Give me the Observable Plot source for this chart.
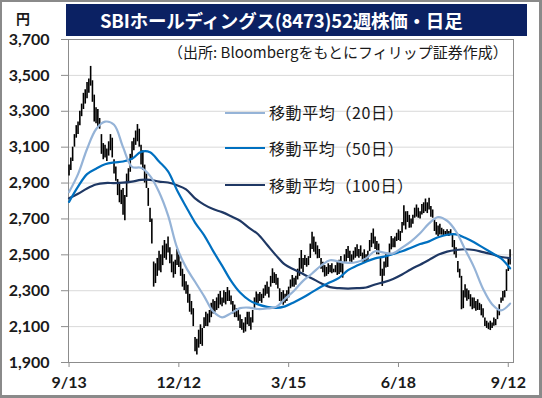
<!DOCTYPE html>
<html><head><meta charset="utf-8">
<script src="https://cdn.jsdelivr.net/npm/d3@7"></script>
<script src="https://cdn.jsdelivr.net/npm/@observablehq/plot@0.6"></script>
<style>
body{margin:0;background:#fff;}
#wrap{position:relative;width:542px;height:398px;overflow:hidden;font-family:"Noto Sans CJK JP","Noto Sans",sans-serif;background:#fff;}
#wrap svg{position:absolute;left:0;top:0;}
.ov{position:absolute;white-space:nowrap;}
#title{left:66px;top:4px;width:461px;height:32px;background:#0b2163;color:#fff;font-weight:bold;font-size:18.5px;line-height:32px;box-sizing:border-box;padding-left:34px;letter-spacing:-0.2px;}
#src{left:168px;top:42px;font-size:15px;line-height:20px;color:#1a1a1a;}
#yen{left:16px;top:8px;font-size:14px;font-weight:bold;line-height:20px;color:#1a1a1a;}
.lg{position:absolute;left:225px;width:40px;height:0;}
.lt{position:absolute;left:269px;font-size:16px;line-height:20px;color:#1a1a1a;white-space:nowrap;letter-spacing:0.6px;}
#border{position:absolute;left:0;top:0;width:542px;height:398px;box-sizing:border-box;border-style:solid;border-color:#8a8a8a;border-width:2px 3px 3px 2px;pointer-events:none;}
</style></head><body><div id="wrap"></div>
<script>
// Daily candles: trading-day index 0 = 9/13
const high = [
3000,3040,3100,3170,3220,3240,3300,3340,3400,3420,
3460,3480,3550,3470,3390,3320,3310,3260,3170,3120,
3110,3090,3130,3170,3150,3030,2990,2920,2900,2860,
2870,2830,2950,2980,3060,3130,3150,3190,3226,3200,
3110,3080,3000,2950,2870,2760,2700,2460,2450,2480,
2520,2500,2550,2580,2560,2600,2540,2500,2460,2470,
2530,2500,2460,2420,2390,2350,2330,2280,2240,2200,
2040,2030,2080,2110,2090,2150,2180,2170,2190,2230,
2250,2240,2260,2280,2296,2260,2300,2290,2318,2300,
2270,2240,2220,2200,2190,2165,2140,2120,2150,2180,
2180,2150,2190,2260,2293,2280,2290,2280,2310,2330,
2348,2320,2380,2422,2400,2390,2370,2311,2290,2300,
2280,2300,2320,2360,2385,2370,2380,2420,2480,2524,
2480,2496,2480,2490,2560,2626,2600,2570,2550,2530,
2480,2459,2440,2430,2450,2440,2450,2420,2440,2459,
2470,2491,2450,2500,2530,2546,2520,2500,2520,2540,
2556,2530,2550,2510,2528,2500,2520,2580,2620,2644,
2600,2574,2560,2481,2420,2460,2500,2490,2560,2602,
2590,2600,2620,2639,2630,2680,2774,2740,2741,2720,
2700,2720,2760,2778,2760,2740,2780,2790,2811,2790,
2815,2770,2750,2694,2680,2660,2670,2648,2640,2630,
2640,2630,2640,2611,2580,2540,2463,2420,2380,2300,
2333,2310,2300,2278,2260,2259,2240,2250,2230,2222,
2200,2148,2130,2120,2130,2120,2148,2140,2190,2222,
2260,2296,2300,2417,2481,2528];
const low = [
2940,2970,3020,3100,3150,3170,3220,3270,3310,3340,
3370,3400,3440,3350,3240,3230,3210,3200,3060,3030,
3040,3020,3050,3080,3040,2950,2910,2830,2790,2780,
2720,2690,2820,2900,2960,3030,3080,3110,3130,3100,
3000,2970,2900,2870,2770,2680,2560,2320,2340,2380,
2410,2400,2440,2480,2470,2510,2450,2400,2370,2390,
2440,2430,2380,2320,2300,2280,2230,2180,2165,2100,
1960,1942,1980,2000,1990,2090,2100,2100,2120,2150,
2170,2180,2190,2200,2220,2210,2230,2221,2240,2240,
2220,2170,2150,2150,2130,2090,2080,2063,2070,2110,
2100,2080,2120,2200,2230,2228,2240,2230,2256,2270,
2280,2260,2320,2340,2340,2330,2310,2240,2230,2219,
2230,2240,2260,2311,2320,2320,2330,2360,2380,2420,
2400,2440,2431,2440,2480,2530,2515,2500,2478,2480,
2420,2400,2376,2380,2390,2400,2394,2400,2400,2385,
2390,2400,2370,2454,2460,2480,2460,2454,2470,2481,
2490,2481,2490,2460,2454,2460,2470,2518,2540,2560,
2530,2500,2500,2380,2324,2380,2426,2430,2500,2528,
2540,2540,2574,2580,2574,2620,2660,2639,2680,2648,
2650,2670,2704,2710,2704,2700,2722,2730,2740,2730,
2750,2710,2704,2630,2610,2602,2610,2610,2602,2610,
2605,2602,2610,2540,2500,2481,2400,2370,2194,2200,
2260,2241,2250,2210,2194,2200,2185,2190,2190,2160,
2148,2100,2090,2083,2078,2090,2102,2105,2139,2160,
2230,2241,2260,2296,2407,2444];

// Moving averages read every 5 trading days
const maDay = [0,5,10,15,20,25,30,35,40,45,50,55,60,65,70,75,80,85,90,95,100,105,110,115,120,125,130,135,140,145,150,155,160,165,170,175,180,185,190,195,200,205,210,215,220,225,230,235,240,245];
const ma20 = [2850,2950,3090,3200,3242,3225,3100,2990,2985,2940,2850,2720,2540,2430,2350,2270,2185,2152,2175,2203,2206,2198,2201,2210,2255,2300,2355,2396,2440,2470,2462,2455,2460,2480,2520,2512,2508,2540,2575,2620,2675,2710,2690,2630,2530,2430,2310,2225,2190,2228];
const ma50 = [2795,2880,2950,2980,3005,3015,3020,3035,3074,3072,3020,2965,2860,2768,2680,2610,2522,2440,2355,2290,2248,2224,2210,2204,2213,2236,2262,2292,2322,2347,2372,2415,2440,2462,2480,2490,2505,2520,2540,2560,2575,2598,2612,2614,2595,2570,2540,2510,2480,2425];
const ma100 = [2815,2840,2870,2892,2900,2900,2902,2908,2918,2918,2908,2903,2888,2865,2815,2780,2755,2738,2715,2690,2650,2615,2556,2497,2445,2418,2393,2368,2342,2320,2314,2312,2314,2318,2335,2348,2365,2390,2420,2445,2472,2500,2518,2527,2531,2527,2515,2503,2488,2482];

const tickDays = [0,61,122,183,244];
const tickLabels = ["9/13","12/12","3/15","6/18","9/12"];
const yTicks = [1900,2100,2300,2500,2700,2900,3100,3300,3500,3700];

const seriesNames = ["移動平均（20日）","移動平均（50日）","移動平均（100日）"];
const seriesColors = ["#95b3d7","#0070c0","#1f3864"];

const days = high.map((h,i)=>({i, high:h, low:low[i]}));
const ma = maDay.map((d,k)=>({i:d, ma20:ma20[k], ma50:ma50[k], ma100:ma100[k]}));

const chart = Plot.plot({
  width: 542, height: 398,
  marginLeft: 68, marginRight: 29, marginTop: 39, marginBottom: 36,
  style: {fontFamily: "Lato, 'Noto Sans', sans-serif", fontSize: "16px", fontWeight: "bold", color: "#1a1a1a", background: "transparent"},
  x: {domain: [-0.3, 246.9]},
  y: {domain: [1900, 3700]},
  marks: [
    Plot.gridY({ticks: yTicks, stroke: "#d9d9d9", strokeOpacity: 1}),
    Plot.frame({stroke: "#8c8c8c"}),
    Plot.axisY({ticks: yTicks, tickSize: 7, tickPadding: 12, tickFormat: d3.format(","), stroke: "#8c8c8c", fill: "#1a1a1a", label: null}),
    Plot.axisX({ticks: tickDays, tickSize: 5, tickPadding: 9, tickFormat: d => tickLabels[tickDays.indexOf(d)], stroke: "#8c8c8c", fill: "#1a1a1a", label: null}),
    Plot.ruleX(days, {x: "i", y1: "low", y2: "high", stroke: "#000", strokeWidth: 1.6}),
    Plot.line(ma, {x: "i", y: "ma100", stroke: seriesColors[2], strokeWidth: 2.2, curve: "catmull-rom"}),
    Plot.line(ma, {x: "i", y: "ma50", stroke: seriesColors[1], strokeWidth: 2.2, curve: "catmull-rom"}),
    Plot.line(ma, {x: "i", y: "ma20", stroke: seriesColors[0], strokeWidth: 2.2, curve: "catmull-rom"})
  ]
});

const wrap = document.getElementById("wrap");
wrap.appendChild(chart);

function addDiv(id, cls, text){
  const d = document.createElement("div");
  if (id) d.id = id;
  d.className = cls;
  d.textContent = text;
  wrap.appendChild(d);
  return d;
}
addDiv("title","ov","SBIホールディングス(8473)52週株価・日足");
addDiv("src","ov","（出所: Bloombergをもとにフィリップ証券作成）");
addDiv("yen","ov","円");
const legendY = [112.7, 148.3, 185];
seriesNames.forEach((name,k)=>{
  const l = document.createElement("div");
  l.className = "lg";
  l.style.top = (legendY[k]-1.1)+"px";
  l.style.borderTop = "2.3px solid " + seriesColors[k];
  wrap.appendChild(l);
  const t = document.createElement("div");
  t.className = "lt";
  t.style.top = (legendY[k]-10.5)+"px";
  t.textContent = name;
  wrap.appendChild(t);
});
const b = document.createElement("div");
b.id = "border";
wrap.appendChild(b);
</script></body></html>
